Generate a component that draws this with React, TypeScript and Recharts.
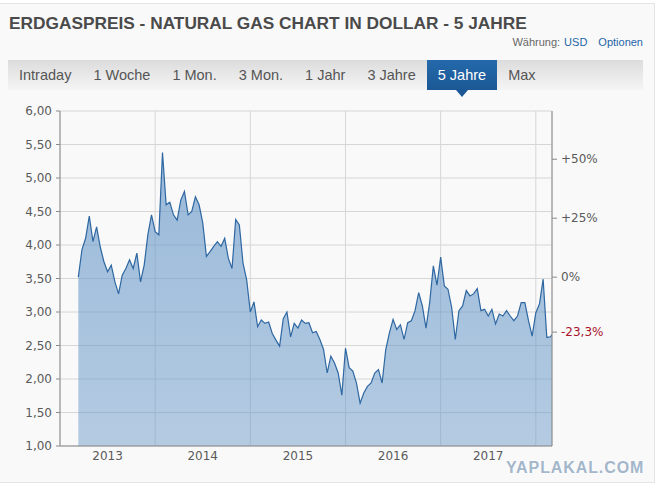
import { AreaChart, Area, XAxis, YAxis, CartesianGrid } from "recharts";

// biweekly closes, 26 slots per year; 2013 begins at slot 5 (early March)
const years = [2013, 2014, 2015, 2016, 2017, 2018];
const firstSlot2013 = 5;
const p2013 = [3.52, 3.93, 4.1, 4.43, 4.05, 4.27, 3.97, 3.75, 3.6, 3.7, 3.45, 3.27, 3.55, 3.65, 3.78, 3.65, 3.88, 3.45, 3.7, 4.15, 4.45];
const p2014 = [4.2, 4.15, 5.38, 4.6, 4.64, 4.45, 4.37, 4.67, 4.8, 4.45, 4.5, 4.72, 4.6, 4.33, 3.83, 3.9, 3.98, 4.05, 3.98, 4.1, 3.8, 3.65, 4.38, 4.3, 3.73, 3.48];
const p2015 = [3.0, 3.15, 2.78, 2.88, 2.83, 2.85, 2.68, 2.58, 2.49, 2.9, 3.0, 2.63, 2.83, 2.76, 2.88, 2.83, 2.84, 2.69, 2.71, 2.59, 2.44, 2.09, 2.34, 2.24, 2.09, 1.76];
const p2016 = [2.46, 2.17, 2.12, 1.94, 1.64, 1.79, 1.89, 1.94, 2.09, 2.14, 1.94, 2.44, 2.69, 2.89, 2.74, 2.81, 2.59, 2.84, 2.87, 3.02, 3.29, 3.09, 2.76, 3.14, 3.69, 3.4];
const p2017 = [3.82, 3.39, 3.34, 3.07, 2.59, 3.02, 3.09, 3.32, 3.24, 3.27, 3.35, 3.02, 3.04, 2.94, 3.04, 2.82, 2.97, 2.94, 3.02, 2.94, 2.87, 2.94, 3.14, 3.14, 2.87, 2.64];
const p2018 = [2.99, 3.12, 3.49, 2.62, 2.63, 2.7];
const pricesByYear = [p2013, p2014, p2015, p2016, p2017, p2018];

const priceTicks = [1, 1.5, 2, 2.5, 3, 3.5, 4, 4.5, 5, 5.5, 6];
const priceGrid = [1.5, 2, 2.5, 3, 3.5, 4, 4.5, 5, 5.5];
const pctTicks = [50, 25, 0, -50];
const yearLabels = [2013, 2014, 2015, 2016, 2017];
const yearLines = [2014, 2015, 2016, 2017, 2018];
const tabs = ["Intraday", "1 Woche", "1 Mon.", "3 Mon.", "1 Jahr", "3 Jahre", "5 Jahre", "Max"];
const activeTab = "5 Jahre";

const data = years.flatMap((y, k) =>
  pricesByYear[k].map((v, i) => ({
    t: y + (i + (k === 0 ? firstSlot2013 : 0)) / 26,
    price: v,
  }))
);
const base = data[0].price;
const last = data[data.length - 1].price;
const change = Math.round((last / base - 1) * 1000) / 10;
const pctValues = [...pctTicks, change].map((p) => base * (1 + p / 100));
const xDomain = [2013, 2018.17];

const BLUE = "#2e67a1";
const RED = "#a8142c";
const TICK = { fontFamily: "DejaVu Sans", fontSize: 12, fill: "#5a5a5a" };

function PctTick(props: any) {
  const { x, y, payload } = props;
  const p = Math.round((payload.value / base - 1) * 1000) / 10;
  const isChange = Math.abs(p - change) < 0.05;
  const txt =
    (p > 0 ? "+" : "") + (isChange ? p.toFixed(1).replace(".", ",") : Math.round(p).toString()) + "%";
  return (
    <text x={x} y={y} dy={4} textAnchor="start" {...TICK} fill={isChange ? RED : TICK.fill}>
      {txt}
    </text>
  );
}

export default function App() {
  return (
    <div style={{ position: "absolute", left: 0, top: 0, width: 670, height: 498, background: "#fff", fontFamily: "'Liberation Sans', Arial, sans-serif" }}>
      <div style={{ position: "absolute", left: -1, top: 3, width: 654, height: 478, background: "#f9f9f9", border: "1px solid #e4e4e4" }} />
      <div style={{ position: "absolute", left: 9, top: 15, fontSize: 17.3, lineHeight: 1, fontWeight: "bold", color: "#4a4a4a", whiteSpace: "nowrap" }}>
        ERDGASPREIS - NATURAL GAS CHART IN DOLLAR - 5 JAHRE
      </div>
      <div style={{ position: "absolute", right: 670 - 643, top: 36.5, fontSize: 11, lineHeight: 1, whiteSpace: "nowrap" }}>
        <span style={{ color: "#666" }}>Währung:</span>
        <span style={{ color: "#1d65a8", marginLeft: 4 }}>USD</span>
        <span style={{ color: "#1d65a8", marginLeft: 11 }}>Optionen</span>
      </div>
      <div style={{ position: "absolute", left: 8, top: 60, width: 635, height: 30, background: "linear-gradient(#dcdcdc, #f5f5f5)", display: "flex" }}>
        {tabs.map((t) => {
          const on = t === activeTab;
          return (
            <div key={t} style={{ position: "relative", padding: "0 11px", height: 30, lineHeight: "30px", fontSize: 14.5, whiteSpace: "nowrap", color: on ? "#fff" : "#555", background: on ? "linear-gradient(#2469ab, #1b5895)" : "transparent" }}>
              {t}
              {on && (
                <div style={{ position: "absolute", left: "50%", top: 30, marginLeft: -6, width: 0, height: 0, borderLeft: "6px solid transparent", borderRight: "6px solid transparent", borderTop: "7px solid #1b5895" }} />
              )}
            </div>
          );
        })}
      </div>
      <div style={{ position: "absolute", left: 0, top: 100 }}>
        <AreaChart width={655} height={380} data={data} margin={{ top: 11, right: 0, bottom: 0, left: 0 }}>
          <defs>
            <linearGradient id="gasFill" x1="0" y1="0" x2="0" y2="1">
              <stop offset="0%" stopColor="#6395c7" stopOpacity={0.64} />
              <stop offset="100%" stopColor="#6395c7" stopOpacity={0.46} />
            </linearGradient>
          </defs>
          <CartesianGrid stroke="#d6d6d6" xAxisId="grid" yAxisId="grid" />
          <XAxis xAxisId="grid" dataKey="t" type="number" domain={xDomain} ticks={yearLines} hide height={0} allowDataOverflow />
          <YAxis yAxisId="grid" orientation="right" domain={[1, 6]} ticks={priceGrid} hide width={0} allowDataOverflow />
          <XAxis
            dataKey="t"
            type="number"
            domain={xDomain}
            ticks={yearLabels.map((y) => y + 0.5)}
            tickFormatter={(v: number) => String(Math.floor(v))}
            tick={TICK}
            tickLine={false}
            tickSize={0}
            tickMargin={5}
            stroke="#8a8a8a"
            height={34}
            allowDataOverflow
          />
          <YAxis
            yAxisId="left"
            domain={[1, 6]}
            ticks={priceTicks}
            tickFormatter={(v: number) => v.toFixed(2).replace(".", ",")}
            tick={TICK}
            tickSize={4}
            tickMargin={4}
            stroke="#8a8a8a"
            width={60}
            allowDataOverflow
          />
          <YAxis
            yAxisId="pct"
            orientation="right"
            domain={[1, 6]}
            ticks={pctValues}
            tick={<PctTick />}
            tickSize={5}
            tickMargin={4}
            stroke="#8a8a8a"
            width={103}
            allowDataOverflow
          />
          <Area
            yAxisId="left"
            type="linear"
            dataKey="price"
            stroke={BLUE}
            strokeWidth={1.2}
            fill="url(#gasFill)"
            fillOpacity={1}
            baseValue={1}
            dot={false}
            activeDot={false}
            isAnimationActive={false}
          />
        </AreaChart>
      </div>
      <div style={{ position: "absolute", left: 506, top: 460, fontSize: 16, lineHeight: 1, fontWeight: 900, letterSpacing: 0.9, color: "#a3b6ca", textShadow: "0 0 2px #fff, 0 0 2px #fff", whiteSpace: "nowrap" }}>
        YAPLAKAL.COM
      </div>
    </div>
  );
}
